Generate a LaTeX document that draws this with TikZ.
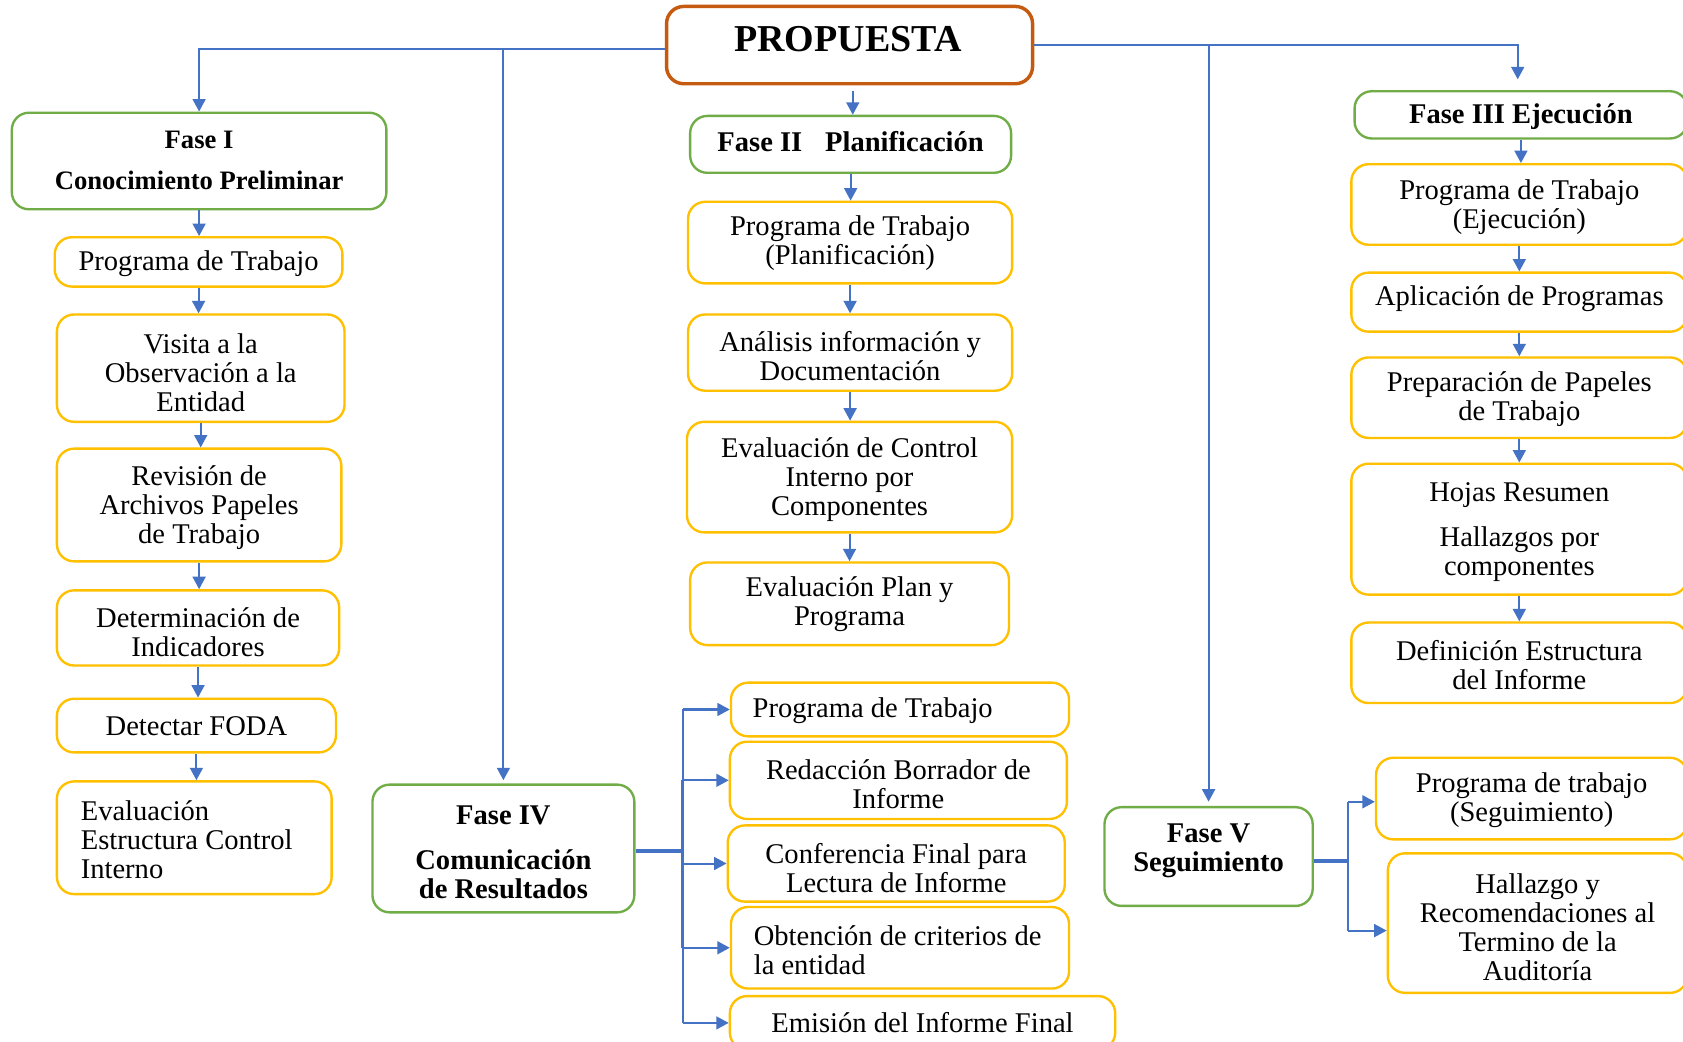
\documentclass[tikz,border=0pt]{standalone}
\usepackage{fontspec}
\setmainfont{Liberation Serif}
\usetikzlibrary{arrows.meta,calc}
\definecolor{grn}{HTML}{70AD47}
\definecolor{gld}{HTML}{FFC000}
\definecolor{blu}{HTML}{4472C4}
\definecolor{org}{HTML}{C55A11}
\newcommand{\txtf}{\fontsize{13.3}{13.5}\selectfont}
\tikzset{
  ybox/.style={draw=gld, line width=1.1pt, rounded corners=8pt, inner sep=0pt},
  gbox/.style={draw=grn, line width=1.1pt, rounded corners=8pt, inner sep=0pt},
  obox/.style={draw=org, line width=1.6pt, rounded corners=8pt, inner sep=0pt},
  tn/.style={align=center, font=\txtf, inner sep=0pt},
  tb/.style={align=center, font=\bfseries\txtf, inner sep=0pt},
  tl/.style={align=left, font=\txtf, inner sep=0pt, anchor=west},
  ln/.style={draw=blu, line width=0.95pt},
  thk/.style={draw=blu, line width=1.8pt},
  arr/.style={draw=blu, line width=0.95pt, -{Triangle[length=5.8pt,width=6pt]}},
}
% #1 box style, #2 text style, #3 name, #4 cx, #5 cy, #6 w, #7 h, #8 text y, #9 text
\newcommand{\bx}[9]{%
  \node[#1, minimum width=#6pt, minimum height=#7pt] (#3) at (#4,#5) {};
  \node[#2] (#3t) at (#4,#8) {#9};}
\begin{document}
\begin{tikzpicture}[x=0.5pt,y=-0.5pt]
\clip (0,0) rectangle (1568,970);
\fill[white] (0,0) rectangle (1568,970);

% PROPUESTA
\node[obox, minimum width=170.5pt, minimum height=36pt] (prop) at (791.5,42) {};
\node[font=\bfseries\fontsize{17.7}{20}\selectfont, inner sep=0pt] (propt) at (790,36) {PROPUESTA};

% Fase I column
\bx{gbox}{tb, font=\bfseries\fontsize{12.4}{13.5}\selectfont}{f1}{185.5}{150}{174.5}{45}{149.5}{Fase I\\[6pt]Conocimiento Preliminar}
\bx{ybox}{tn}{l1}{185}{244}{134}{23}{245.5}{Programa de Trabajo}
\bx{ybox}{tn}{l2}{187}{343}{134}{50}{347}{Visita a la\\Observación a la\\Entidad}
\bx{ybox}{tn}{l3}{185.5}{470.5}{132.5}{52.5}{473}{Revisión de\\Archivos Papeles\\de Trabajo}
\bx{ybox}{tn}{l4}{184.5}{585}{131.5}{35}{589}{Determinación de\\Indicadores}
\bx{ybox}{tn}{l5}{183}{676}{130}{25}{677}{Detectar FODA}
\node[ybox, minimum width=128pt, minimum height=52.5pt] (l6) at (181,780.5) {};
\node[tl] (l6t) at ([xshift=11.5pt,yshift=-1pt]l6.west) {Evaluación\\Estructura Control\\Interno};

% Fase II column
\bx{gbox}{tb}{f2}{792.5}{134.5}{149.5}{26.5}{132}{Fase II\hspace{0.55em} Planificación}
\bx{ybox}{tn}{m1}{792}{226}{151}{38}{226.5}{Programa de Trabajo\\(Planificación)}
\bx{ybox}{tn}{m2}{792}{328.5}{151}{35.5}{332}{Análisis información y\\Documentación}
\bx{ybox}{tn}{m3}{791.5}{444.5}{151.5}{51.5}{447}{Evaluación de Control\\Interno por\\Componentes}
\bx{ybox}{tn}{m4}{791.5}{562.5}{148.5}{38.5}{562.5}{Evaluación Plan y\\Programa}

% Fase III column
\bx{gbox}{tb}{f3}{1417}{107}{155}{22}{108.5}{Fase III Ejecución}
\bx{ybox}{tn}{r1}{1415.5}{190.5}{156.5}{37.5}{193}{Programa de Trabajo\\(Ejecución)}
\bx{ybox}{tn}{r2}{1415.5}{281.5}{156.5}{27.5}{278.5}{Aplicación de Programas}
\bx{ybox}{tn}{r3}{1415.5}{370.5}{156.5}{37.5}{372}{Preparación de Papeles\\de Trabajo}
\bx{ybox}{tn}{r4}{1415.5}{493}{156.5}{61}{495.5}{Hojas Resumen\\[7.5pt]Hallazgos por\\componentes}
\bx{ybox}{tn}{r5}{1415.5}{617.5}{156.5}{37.5}{620}{Definición Estructura\\del Informe}

% Fase IV
\bx{gbox}{tb}{f4}{469}{790.5}{122}{59.5}{794}{Fase IV\\[7.5pt]Comunicación\\de Resultados}
\node[ybox, minimum width=157.5pt, minimum height=25pt] (c1) at (838.5,661) {};
\node[tl] (c1t) at ([xshift=10.5pt,yshift=-0.5pt]c1.west) {Programa de Trabajo};
\bx{ybox}{tn}{c2}{837}{727}{157}{36}{730.5}{Redacción Borrador de\\Informe}
\bx{ybox}{tn}{c3}{835}{804.5}{157}{35.5}{808.5}{Conferencia Final para\\Lectura de Informe}
\node[ybox, minimum width=157.5pt, minimum height=38pt] (c4) at (838.5,883) {};
\node[tl] (c4t) at ([xshift=11pt,yshift=-1pt]c4.west) {Obtención de criterios de\\la entidad};
\bx{ybox}{tn}{c5}{859.5}{953}{179.5}{25}{952.5}{Emisión del Informe Final}

% Fase V
\bx{gbox}{tb}{f5}{1126}{798}{97}{46}{793}{Fase V\\Seguimiento}
\bx{ybox}{tn}{s1}{1427}{744}{145}{38}{745.5}{Programa de trabajo\\(Seguimiento)}
\bx{ybox}{tn}{s2}{1432.5}{860}{139.5}{65}{863.5}{Hallazgo y\\Recomendaciones al\\Termino de la\\Auditoría}

% Top connectors
\coordinate (tl) at ([yshift=-2pt]prop.west);
\draw[arr] (tl) -| (f1.north);
\draw[arr, shorten >=1.5pt] (tl -| f4.north) -- (f4.north);
\draw[arr, shorten >=5pt] (prop.east) -| ([xshift=-1.5pt]f3.north);
\draw[arr, shorten >=2pt] (prop.east -| f5.north) -- (f5.north);
\draw[arr, shorten <=2.5pt] ([xshift=1.5pt]prop.south) -- ([xshift=1.5pt]prop.south |- f2.north);

% Column arrows
\foreach \a/\b in {f1/l1,l1/l2,l2/l3,l3/l4,l4/l5,l5/l6,f2/m1,m1/m2,m2/m3,m3/m4,f3/r1,r1/r2,r2/r3,r3/r4,r4/r5}
  \draw[arr] (\a.south) -- (\a.south |- \b.north);

% Fase IV bus
\coordinate (b4) at (636,793);
\draw[thk] (f4.east |- b4) -- (b4);
\draw[ln] (b4 |- c1.west) -- (b4 |- c5.west);
\draw[draw=blu, line width=1.6pt] (b4 |- c2.west) -- (b4 |- c4.west);
\foreach \n in {c1,c2,c3,c4,c5}
  \draw[arr] (b4 |- \n.west) -- (\n.west);

% Fase V bus
\coordinate (b5) at (1256,802);
\coordinate (s1w) at ([yshift=-1.5pt]s1.west);
\coordinate (s2w) at ([yshift=-3.5pt]s2.west);
\draw[thk] (f5.east |- b5) -- (b5);
\draw[ln] (b5 |- s1w) -- (b5 |- s2w);
\draw[arr] (b5 |- s1w) -- (s1w);
\draw[arr] (b5 |- s2w) -- (s2w);
\end{tikzpicture}
\end{document}
